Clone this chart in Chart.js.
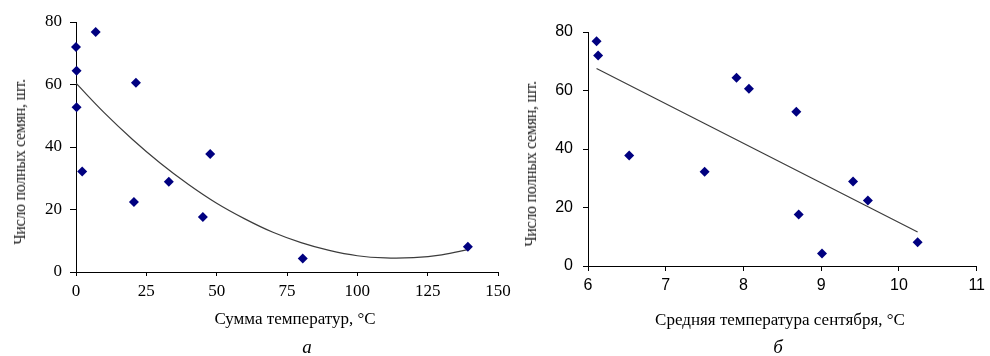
<!DOCTYPE html>
<html lang="ru">
<head>
<meta charset="utf-8">
<title>Число полных семян</title>
<script src="https://cdn.jsdelivr.net/npm/chart.js@4/dist/chart.umd.min.js"></script>
<style>
  body { margin: 0; background: #fff; }
  #quadro { position: relative; width: 990px; height: 356px; overflow: hidden; background: #fff; }
  #quadro canvas { position: absolute; left: 0; top: 0; }
  .rotulo { position: absolute; font-family: "Liberation Serif", "Times New Roman", serif; font-size: 17px; color: #000; white-space: nowrap; transform: translate(-50%, -50%); }
  .vertical { font-size: 16px; letter-spacing: -0.3px; color: #222; transform: translate(-50%, -50%) rotate(-90deg); }
  .letra { font-size: 19px; font-style: italic; }
</style>
</head>
<body>
<div id="quadro">
  <canvas id="graficoSoma" width="990" height="356"></canvas>
  <canvas id="graficoSetembro" width="990" height="356"></canvas>
  <div class="rotulo vertical" style="left:20px; top:162px;">Число полных семян, шт.</div>
  <div class="rotulo vertical" style="left:531px; top:164px;">Число полных семян, шт.</div>
  <div class="rotulo" style="left:295px; top:319px;">Сумма температур, °С</div>
  <div class="rotulo" style="left:780px; top:320px;">Средняя температура сентября, °С</div>
  <div class="rotulo letra" style="left:307px; top:347px;">а</div>
  <div class="rotulo letra" style="left:778px; top:347px;">б</div>
</div>
<script>
// число полных семян (одни и те же выборки на обоих графиках)
const sementes = [76.8, 72.0, 64.4, 60.6, 52.7, 37.8, 32.2, 28.9, 22.4, 17.6, 8.1, 4.3];
// сумма температур, °С
const somaTemp = [7.0, 0, 0.2, 21.3, 0.2, 47.7, 2.2, 33.0, 20.6, 45.1, 139.3, 80.6];
// средняя температура сентября, °С
const tempSetembro = [6.11, 6.13, 7.91, 8.07, 8.68, 6.53, 7.5, 9.41, 9.6, 8.71, 10.24, 9.01];

// линия тренда (а)
const curvaX = [0, 10, 20, 30, 40, 50, 60, 70, 80, 90, 100, 110, 120, 130, 140];
const curvaY = [60.4, 51.0, 42.5, 34.8, 28.0, 22.0, 17.0, 12.7, 9.4, 6.9, 5.2, 4.5, 4.6, 5.5, 7.3];

// линия тренда (б)
const retaX = [6.11, 10.24];
const retaY = [67.5, 11.6];

const ticksSoma = [0, 25, 50, 75, 100, 125, 150];
const ticksSetembro = [6, 7, 8, 9, 10, 11];
const ticksSementes = [0, 20, 40, 60, 80];

const corPonto = "#000080";
const corLinha = "#3c3c3c";

function pares(xs, ys) {
  return xs.map((x, i) => ({ x: x, y: ys[i] }));
}

function eixos(cfg) {
  return {
    x: {
      type: "linear",
      min: cfg.xMin,
      max: cfg.xMax,
      afterBuildTicks: (s) => { s.ticks = cfg.xTicks.map((v) => ({ value: v })); },
      afterFit: (s) => { s.height = 40; },
      border: { display: true, color: "#000", width: 1 },
      grid: { display: true, drawOnChartArea: false, drawTicks: true, tickLength: cfg.xTickLen, color: "#000" },
      ticks: { color: "#000", padding: cfg.xPad, maxRotation: 0, autoSkip: false, font: cfg.fonte },
    },
    y: {
      type: "linear",
      min: 0,
      max: 80,
      afterBuildTicks: (s) => { s.ticks = ticksSementes.map((v) => ({ value: v })); },
      afterFit: (s) => { s.width = cfg.yLarg; },
      border: { display: true, color: "#000", width: 1 },
      grid: { display: true, drawOnChartArea: false, drawTicks: true, tickLength: cfg.yTickLen, color: "#000" },
      ticks: { color: "#000", padding: cfg.yPad, font: cfg.fonte },
    },
  };
}

function criarGrafico(id, pontos, linha, padding, cfg) {
  return new Chart(document.getElementById(id), {
    type: "scatter",
    data: {
      datasets: [
        {
          data: pontos,
          pointStyle: "rectRot",
          pointRadius: 5,
          pointBackgroundColor: corPonto,
          pointBorderColor: corPonto,
          pointBorderWidth: 0,
          showLine: false,
          clip: false,
        },
        {
          data: linha,
          showLine: true,
          borderColor: corLinha,
          borderWidth: 1.2,
          pointRadius: 0,
          tension: 0.4,
          fill: false,
        },
      ],
    },
    options: {
      responsive: false,
      animation: false,
      devicePixelRatio: 1,
      layout: { padding: padding },
      plugins: { legend: { display: false }, tooltip: { enabled: false } },
      scales: eixos(cfg),
    },
  });
}

criarGrafico(
  "graficoSoma",
  pares(somaTemp, sementes),
  pares(curvaX, curvaY),
  { left: 0, right: 492, top: 22, bottom: 44 },
  {
    xMin: 0, xMax: 150, xTicks: ticksSoma, xTickLen: 4, xPad: 5,
    yLarg: 76, yTickLen: 6, yPad: 8,
    fonte: { family: "'Liberation Serif', 'Times New Roman', serif", size: 17 },
  }
);

criarGrafico(
  "graficoSetembro",
  pares(tempSetembro, sementes),
  pares(retaX, retaY),
  { left: 530, right: 8, top: 32, bottom: 50 },
  {
    xMin: 6, xMax: 11, xTicks: ticksSetembro, xTickLen: 5, xPad: 5,
    yLarg: 58, yTickLen: 5, yPad: 10,
    fonte: { family: "'Liberation Sans', Arial, sans-serif", size: 16 },
  }
);
</script>
</body>
</html>
